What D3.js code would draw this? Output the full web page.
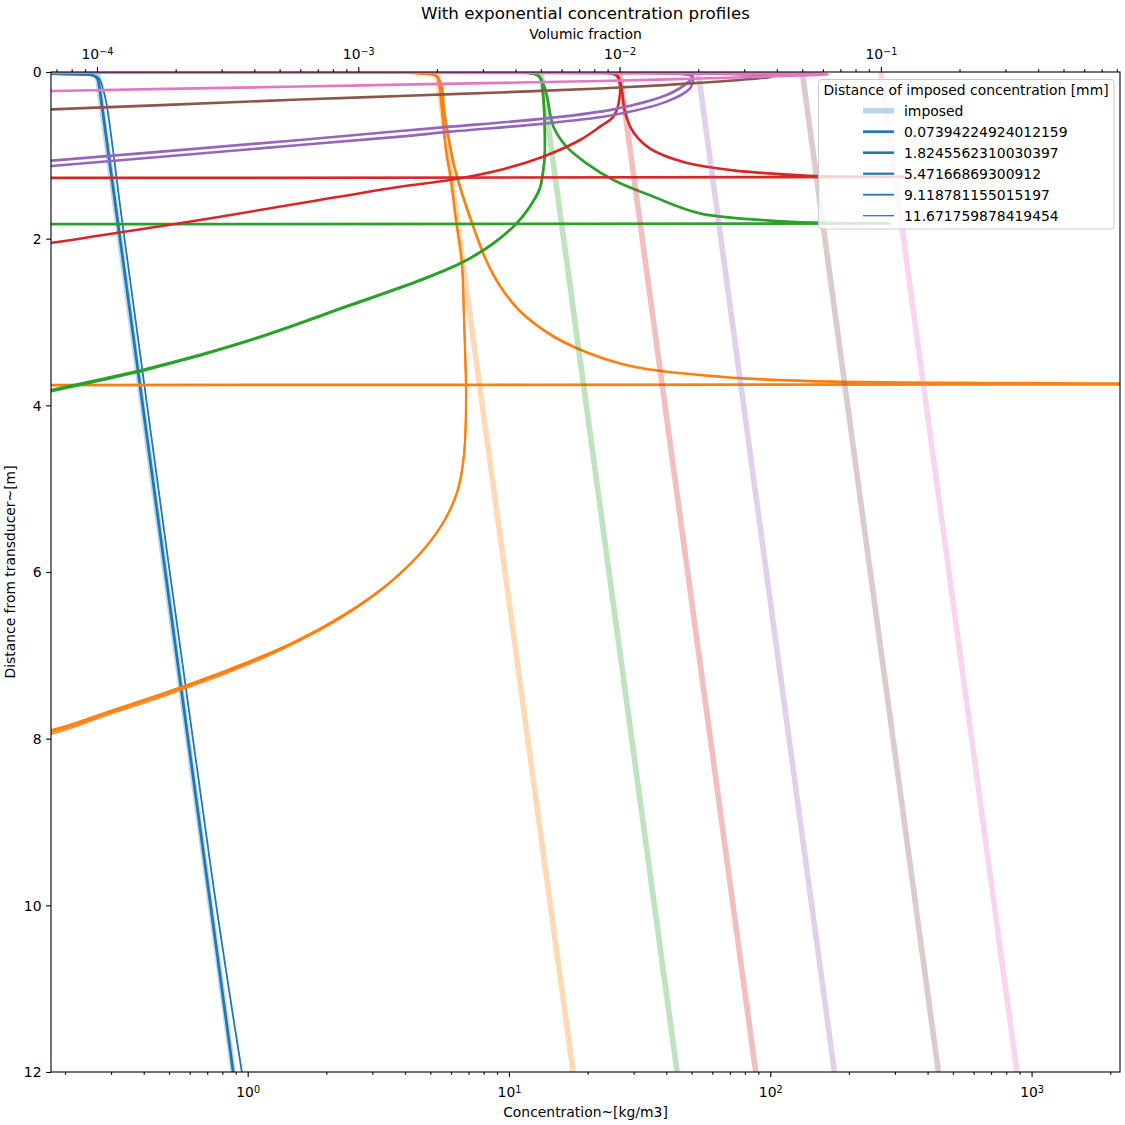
<!DOCTYPE html>
<html><head><meta charset="utf-8">
<script src="https://cdn.jsdelivr.net/npm/d3@7"></script>
<style>body{margin:0;background:#fff} text{font-family:"DejaVu Sans",sans-serif;fill:#000}</style>
</head><body><svg id="c" width="1125" height="1125"></svg>
<script>
// ---------- data ----------
const colors = ["#1f77b4","#ff7f0e","#2ca02c","#d62728","#9467bd","#8c564b","#e377c2"];
const distances = ["0.07394224924012159","1.8245562310030397","5.47166869300912","9.118781155015197","11.671759878419454"];
const imposedTop = [0.265, 5.3, 13.25, 26.5, 53, 132.5, 265];     // kg/m3 at 0 m
const imposedBottom = [0.88, 17.6, 44, 88, 176, 440, 880];       // kg/m3 at 12 m
const imposedDepth = [0, 12];
const xMajorBottom = [1, 10, 100, 1000];
const xMajorTopExp = [-4, -3, -2, -1];
const xMajorBottomExp = [0, 1, 2, 3];
const yTicks = [0, 2, 4, 6, 8, 10, 12];
const sedimentDensity = 2650;

// computed profiles: [concentration, depth]
const blueA = [[0.01,0.024],[0.235,0.03],[0.258,0.045],[0.266,0.08],[0.27,0.16],[0.274,0.3],[0.88,12]];
const blueB = [[0.01,0.03],[0.24,0.036],[0.262,0.05],[0.272,0.09],[0.278,0.18],[0.287,0.35],[0.333,1.86],[0.734,9.7],[0.95,12]];
const orangeRight = [[0.02,0.016],[5.1,0.03],[5.30,0.056],[5.53,0.18],[5.64,0.456],[5.89,0.816],[6.16,1.116],[6.55,1.416],[7.22,1.812],[8.17,2.256],[9.24,2.568],[11.0,2.868],[14.7,3.168],[19.9,3.366],[26.6,3.498],[35.6,3.576],[64.2,3.656],[78.6,3.676],[174,3.716],[2170,3.738],[50000,3.745],[0.001,3.76]];
const orangeLoopA = [[0.02,0.016],[5.1,0.03],[5.30,0.056],[5.40,0.132],[5.54,0.456],[5.74,0.936],[6.00,1.296],[6.27,1.776],[6.59,2.256],[6.73,2.976],[6.85,3.936],[6.73,4.596],[6.38,5.016],[5.74,5.352],[4.77,5.712],[3.51,6.12],[2.36,6.504],[1.45,6.864],[0.856,7.164],[0.504,7.428],[0.297,7.668],[0.1767,7.896],[0.1,7.98]];
const orangeLoopB = [[0.02,0.016],[5.1,0.03],[5.30,0.056],[5.40,0.132],[5.54,0.456],[5.74,0.936],[6.00,1.296],[6.27,1.776],[6.59,2.256],[6.73,2.976],[6.85,3.936],[6.72,4.6],[6.36,5.02],[5.71,5.36],[4.73,5.725],[3.47,6.14],[2.33,6.525],[1.43,6.885],[0.845,7.19],[0.497,7.455],[0.293,7.695],[0.1767,7.92],[0.1,8.0]];
const orangeLoopC = [[0.02,0.016],[5.1,0.03],[5.30,0.056],[5.40,0.132],[5.54,0.456],[5.74,0.936],[6.00,1.296],[6.27,1.776],[6.59,2.256],[6.73,2.976],[6.85,3.936],[6.71,4.604],[6.34,5.024],[5.68,5.368],[4.69,5.738],[3.43,6.16],[2.30,6.546],[1.41,6.906],[0.834,7.215],[0.49,7.48],[0.289,7.72],[0.1767,7.944],[0.1,8.03]];
const greenRight = [[0.02,0.014],[12.8,0.036],[13.3,0.096],[13.9,0.256],[14.8,0.656],[16.6,0.896],[19.8,1.096],[25.1,1.296],[35.7,1.496],[53.8,1.696],[96.9,1.78],[146,1.808],[287,1.818],[0.001,1.826]];
const greenLeft = [[0.02,0.014],[12.8,0.036],[13.3,0.096],[13.5,0.256],[13.7,0.656],[13.7,1.0],[13.5,1.2],[13.1,1.4],[12.0,1.616],[10.7,1.816],[8.71,2.056],[6.69,2.276],[4.57,2.496],[2.46,2.796],[1.02,3.216],[0.423,3.552],[0.1767,3.816],[0.05,4.2]];
const greenLeft2 = [[0.02,0.014],[12.8,0.036],[13.3,0.096],[13.5,0.256],[13.7,0.656],[13.7,1.0],[13.5,1.2],[13.1,1.41],[11.95,1.63],[10.6,1.83],[8.62,2.07],[6.62,2.29],[4.52,2.512],[2.43,2.812],[1.0,3.232],[0.418,3.57],[0.1767,3.834],[0.05,4.22]];
const redRight = [[0.02,0.012],[25.5,0.03],[26.4,0.08],[27.0,0.2],[27.8,0.48],[29.9,0.72],[34.7,0.92],[46.5,1.08],[72.2,1.18],[112,1.228],[150,1.248],[328,1.26],[0.001,1.272]];
const redLeft = [[0.02,0.012],[25.5,0.03],[26.2,0.076],[26.6,0.256],[25.2,0.528],[22.3,0.656],[18.7,0.816],[13.5,1.016],[9.24,1.176],[5.95,1.296],[3.83,1.376],[1.585,1.576],[0.657,1.776],[0.272,1.962],[0.178,2.048],[0.05,2.2]];
const purpleA = [[0.02,0.012],[49,0.035],[50.6,0.056],[47.9,0.136],[40.1,0.276],[25.1,0.448],[13.9,0.556],[5.95,0.656],[3.83,0.708],[1.585,0.816],[0.178,1.064],[0.05,1.2]];
const purpleB = [[0.02,0.014],[49.5,0.04],[50.6,0.075],[49.3,0.196],[40.1,0.356],[25.1,0.516],[13.9,0.616],[5.95,0.716],[3.83,0.776],[1.585,0.876],[0.178,1.128],[0.05,1.26]];
const brownLine = [[0.02,0.01],[95,0.035],[102.4,0.052],[83.6,0.084],[64.2,0.114],[39.9,0.156],[22.3,0.198],[9.24,0.246],[3.83,0.288],[1.585,0.33],[0.178,0.448],[0.05,0.5]];
const pinkLine = [[0.02,0.008],[150,0.02],[166,0.028],[130,0.042],[53.8,0.078],[22.3,0.108],[3.83,0.152],[1.585,0.174],[0.178,0.228],[0.05,0.26]];

// which profile is drawn with which colour / distance index
const computed = [
  {c:0,d:0,pts:blueA},{c:0,d:3,pts:blueB},
  {c:1,d:0,pts:orangeRight},{c:1,d:2,pts:orangeLoopA},{c:1,d:3,pts:orangeLoopB},{c:1,d:4,pts:orangeLoopC},
  {c:2,d:0,pts:greenRight},{c:2,d:1,pts:greenLeft},{c:2,d:2,pts:greenLeft2},
  {c:3,d:0,pts:redRight},{c:3,d:1,pts:redLeft},
  {c:4,d:0,pts:purpleA},{c:4,d:1,pts:purpleB},
  {c:5,d:0,pts:brownLine},
  {c:6,d:0,pts:pinkLine}
];

// ---------- layout ----------
const L=51,R=1120,T=72,B=1072;
const lw=[2.7,2.6,2.2,1.8,1.3];
const svg=d3.select("#c");
svg.append("rect").attr("width",1125).attr("height",1125).attr("fill","#fff");
const x=d3.scaleLog().domain([0.1767,2180]).range([L,R]);
const xt=d3.scaleLog().domain([0.1767/sedimentDensity,2180/sedimentDensity]).range([L,R]);
const y=d3.scaleLinear().domain([0,12]).range([T,B]);

svg.append("clipPath").attr("id","clip").append("rect").attr("x",L).attr("y",T).attr("width",R-L).attr("height",B-T);
const plot=svg.append("g").attr("clip-path","url(#clip)");
const line=d3.line().x(p=>x(p[0])).y(p=>y(p[1])).curve(d3.curveCatmullRom.alpha(0.5));
const lineLin=d3.line().x(p=>x(p[0])).y(p=>y(p[1]));

colors.forEach((col,i)=>{
  plot.append("path").attr("d",lineLin([[imposedTop[i],imposedDepth[0]],[imposedBottom[i],imposedDepth[1]]]))
    .attr("fill","none").attr("stroke",col).attr("stroke-opacity",0.3).attr("stroke-width",5.6);
  computed.filter(k=>k.c===i).forEach(k=>{
    plot.append("path").attr("d",line(k.pts)).attr("fill","none").attr("stroke",col)
      .attr("stroke-width",lw[k.d]).attr("stroke-linejoin","round");
  });
});

// ---------- axes ----------
function styleAxis(g){g.select(".domain").remove();g.selectAll("line").attr("stroke","#000").attr("stroke-width",1.1);g.attr("font-family",null).attr("font-size",null);}
const minorB=x.ticks().filter(v=>!xMajorBottom.some(m=>Math.abs(m-v)/m<1e-6));
svg.append("g").attr("transform",`translate(0,${B})`).call(d3.axisBottom(x).tickValues(minorB).tickSize(2.8).tickFormat("")).call(styleAxis);
const gb=svg.append("g").attr("transform",`translate(0,${B})`).call(d3.axisBottom(x).tickValues(xMajorBottom).tickSize(4.9).tickFormat("")).call(styleAxis);
gb.selectAll(".tick").each(function(d,i){
  const t=d3.select(this).append("text").attr("text-anchor","middle").attr("y",25).attr("font-size","13.9px");
  t.append("tspan").text("10");
  t.append("tspan").attr("dy","-0.45em").attr("font-size","9.7px").text(String(xMajorBottomExp[i]));
});
const topMajor=xMajorTopExp.map(e=>Math.pow(10,e));
const minorT=xt.ticks().filter(v=>!topMajor.some(m=>Math.abs(m-v)/m<1e-6));
svg.append("g").attr("transform",`translate(0,${T})`).call(d3.axisTop(xt).tickValues(minorT).tickSize(2.8).tickFormat("")).call(styleAxis);
const gt=svg.append("g").attr("transform",`translate(0,${T})`).call(d3.axisTop(xt).tickValues(topMajor).tickSize(4.9).tickFormat("")).call(styleAxis);
gt.selectAll(".tick").each(function(d,i){
  const t=d3.select(this).append("text").attr("text-anchor","middle").attr("y",-13).attr("font-size","13.9px");
  t.append("tspan").text("10");
  t.append("tspan").attr("dy","-0.45em").attr("font-size","9.7px").text("\u2212"+Math.abs(xMajorTopExp[i]));
});
const gl=svg.append("g").attr("transform",`translate(${L},0)`).call(d3.axisLeft(y).tickValues(yTicks).tickSize(4.9).tickPadding(4.9)).call(styleAxis);
gl.selectAll("text").attr("font-size","13.9px").attr("dy","0.35em").attr("x",-9.5);
svg.append("rect").attr("x",L).attr("y",T).attr("width",R-L).attr("height",B-T).attr("fill","none").attr("stroke","#000").attr("stroke-width",1.1);

// labels
svg.append("text").attr("x",(L+R)/2).attr("y",18.5).attr("text-anchor","middle").attr("font-size","16.7px").text("With exponential concentration profiles");
svg.append("text").attr("x",(L+R)/2).attr("y",38.5).attr("text-anchor","middle").attr("font-size","13.9px").text("Volumic fraction");
svg.append("text").attr("x",(L+R)/2).attr("y",1117).attr("text-anchor","middle").attr("font-size","13.9px").text("Concentration~[kg/m3]");
svg.append("text").attr("transform",`translate(15,${(T+B)/2}) rotate(-90)`).attr("text-anchor","middle").attr("font-size","13.9px").text("Distance from transducer~[m]");

// legend
const lg=svg.append("g");
lg.append("rect").attr("x",818.5).attr("y",79.5).attr("width",295.5).attr("height",149.5).attr("rx",3)
  .attr("fill","#fff").attr("fill-opacity",0.8).attr("stroke","#ccc").attr("stroke-width",1);
lg.append("text").attr("x",966).attr("y",95).attr("text-anchor","middle").attr("font-size","13.9px").text("Distance of imposed concentration [mm]");
const legItems=["imposed"].concat(distances);
legItems.forEach((s,i)=>{
  const yy=110.7+i*21;
  lg.append("line").attr("x1",863).attr("x2",894).attr("y1",yy).attr("y2",yy).attr("stroke",colors[0])
    .attr("stroke-width",i===0?5.6:lw[i-1]).attr("stroke-opacity",i===0?0.3:1);
  lg.append("text").attr("x",904).attr("y",yy+5).attr("font-size","13.9px").text(s);
});
</script></body></html>
